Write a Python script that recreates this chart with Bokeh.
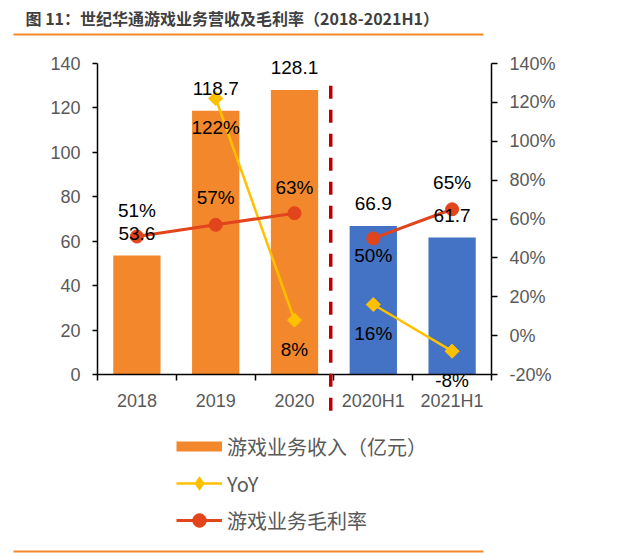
import math
from bokeh.plotting import figure
from bokeh.models import (Range1d, LinearAxis, FixedTicker, CustomJSTickFormatter,
                          PrintfTickFormatter, ColumnDataSource, LabelSet, Label,
                          BoxAnnotation, Arrow, Legend, LegendItem)
from bokeh.core.properties import value
from bokeh.embed import file_html
from bokeh.resources import INLINE

# ---------------- data ----------------
TITLE = "图 11：世纪华通游戏业务营收及毛利率（2018-2021H1）"
categories = ["2018", "2019", "2020", "2020H1", "2021H1"]
revenue = [53.6, 118.7, 128.1, 66.9, 61.7]      # 游戏业务收入（亿元）
yoy = [None, 122, 8, 16, -8]                     # YoY (%)
gross_margin = [51, 57, 63, 50, 65]              # 游戏业务毛利率 (%)
left_ticks = [0, 20, 40, 60, 80, 100, 120, 140]
right_ticks = [-20, 0, 20, 40, 60, 80, 100, 120, 140]
legend_names = ["游戏业务收入（亿元）", "YoY", "游戏业务毛利率"]

# ---------------- styles / layout ----------------
ORANGE = "#F3872B"
BLUE = "#4472C4"
YELLOW = "#FFC000"
RED = "#E2441C"
DIV_RED = "#C00000"
TICK_GREY = "#595959"
NUM_FONT = "Liberation Sans"
CJK_FONT = "Noto Sans CJK SC"
gm_label_offset = [26, 27, 26, -17, 27]
yoy_label_offset = -29
bar_label_offset = 22

W, H = 640, 553
PL, PR, PT, PB = 97, 491, 63, 374   # plot area (axes box) in canvas pixels

n = len(categories)
xs = [i + 0.5 for i in range(n)]
is_half = [c.endswith("H1") for c in categories]

# the frame covers the whole canvas; axes are pinned at fixed data locations
ux = (PR - PL) / n
x_lo, x_hi = -PL / ux, (W - PL) / ux
uy = (PB - PT) / (left_ticks[-1] - left_ticks[0])
y_lo = left_ticks[0] - (H - PB) / uy
y_hi = left_ticks[-1] + PT / uy
uy2 = (PB - PT) / (right_ticks[-1] - right_ticks[0])
y2_lo = right_ticks[0] - (H - PB) / uy2
y2_hi = right_ticks[-1] + PT / uy2

p = figure(width=W, height=H, output_backend="svg", toolbar_location=None, title=None,
           x_range=Range1d(x_lo, x_hi), y_range=Range1d(y_lo, y_hi),
           min_border=0, min_border_left=0, min_border_right=0,
           min_border_top=0, min_border_bottom=0)
p.extra_y_ranges = {"pct": Range1d(y2_lo, y2_hi)}
p.outline_line_color = None
p.grid.visible = False
p.background_fill_color = "white"
p.border_fill_color = "white"

# ---------------- axes ----------------
xa = p.xaxis[0]
xa.fixed_location = left_ticks[0]
xa.bounds = (0, n)
xa.ticker = FixedTicker(ticks=xs, minor_ticks=list(range(n + 1)))
xa.formatter = CustomJSTickFormatter(args=dict(cats=categories),
                                     code="return cats[Math.floor(tick)];")
xa.major_tick_line_color = None
xa.major_tick_out = 5
xa.major_tick_in = 0
xa.minor_tick_out = 6
xa.minor_tick_in = 0
xa.minor_tick_line_color = "black"
xa.minor_tick_line_width = 1.5
xa.axis_line_color = "black"
xa.axis_line_width = 1.5
xa.major_label_standoff = 10
xa.major_label_text_font = NUM_FONT
xa.major_label_text_font_size = "18px"
xa.major_label_text_color = TICK_GREY

ya = p.yaxis[0]
ya.fixed_location = 0
ya.bounds = (left_ticks[0], left_ticks[-1])
ya.ticker = FixedTicker(ticks=left_ticks)
ya.minor_tick_line_color = None
ya.major_tick_in = 0
ya.major_tick_out = 5
ya.major_tick_line_color = "black"
ya.major_tick_line_width = 1.5
ya.axis_line_color = "black"
ya.axis_line_width = 1.5
ya.major_label_standoff = 12
ya.major_label_text_font = NUM_FONT
ya.major_label_text_font_size = "18px"
ya.major_label_text_color = TICK_GREY

ra = LinearAxis(y_range_name="pct", ticker=FixedTicker(ticks=right_ticks),
                formatter=PrintfTickFormatter(format="%d%%"))
ra.fixed_location = n
ra.bounds = (right_ticks[0], right_ticks[-1])
ra.minor_tick_line_color = None
ra.major_tick_in = 0
ra.major_tick_out = 6
ra.major_tick_line_color = "black"
ra.major_tick_line_width = 1.5
ra.axis_line_color = "black"
ra.axis_line_width = 1.5
ra.major_label_standoff = 12
ra.major_label_text_font = NUM_FONT
ra.major_label_text_font_size = "18px"
ra.major_label_text_color = TICK_GREY
p.add_layout(ra, "right")

# ---------------- bars ----------------
bar_src = ColumnDataSource(dict(
    x=xs, top=revenue,
    color=[BLUE if h else ORANGE for h in is_half],
    label=[f"{v:g}" for v in revenue]))
p.vbar(x="x", top="top", width=0.6, fill_color="color", line_color=None, source=bar_src)

# ---------------- lines (broken between annual and half-year) ----------------
groups = [[i for i in range(n) if not is_half[i]], [i for i in range(n) if is_half[i]]]

for g in groups:
    p.line([xs[i] for i in g], [yoy[i] if yoy[i] is not None else math.nan for i in g],
           y_range_name="pct", line_color=YELLOW, line_width=2.5)
for g in groups:
    p.line([xs[i] for i in g], [gross_margin[i] for i in g],
           y_range_name="pct", line_color=RED, line_width=3)

yoy_idx = [i for i in range(n) if yoy[i] is not None]
yoy_src = ColumnDataSource(dict(x=[xs[i] for i in yoy_idx], y=[yoy[i] for i in yoy_idx],
                                label=[f"{yoy[i]}%" for i in yoy_idx]))
p.scatter("x", "y", source=yoy_src, y_range_name="pct", marker="square",
          angle=math.pi / 4, size=10, fill_color=YELLOW, line_color=YELLOW)

gm_src = ColumnDataSource(dict(x=xs, y=gross_margin,
                               label=[f"{v}%" for v in gross_margin],
                               off=gm_label_offset))
p.scatter("x", "y", source=gm_src, y_range_name="pct", marker="circle",
          size=13, fill_color=RED, line_color=RED)

# ---------------- divider between annual and half-year data ----------------
boundary = sum(1 for h in is_half if not h) - 0.04
p.add_layout(Arrow(end=None, x_start=boundary, y_start=130, x_end=boundary, y_end=-18.5,
                   line_color=DIV_RED, line_width=3.5, line_dash="13 11"))

# ---------------- labels ----------------
p.add_layout(LabelSet(x="x", y="top", text="label", source=bar_src, y_offset=bar_label_offset,
                      text_align="center", text_baseline="middle", text_font=value(NUM_FONT),
                      text_font_size=value("19px"), text_color="black"))
p.add_layout(LabelSet(x="x", y="y", text="label", source=gm_src, y_range_name="pct",
                      y_offset="off", text_align="center", text_baseline="middle",
                      text_font=value(NUM_FONT), text_font_size=value("19px"),
                      text_color="black"))
p.add_layout(LabelSet(x="x", y="y", text="label", source=yoy_src, y_range_name="pct",
                      y_offset=yoy_label_offset, text_align="center", text_baseline="middle",
                      text_font=value(NUM_FONT), text_font_size=value("19px"),
                      text_color="black"))

# ---------------- legend (legend-only glyph samples, nothing drawn on the plot) ----------------
nan = [math.nan]
lg_bar = p.line(x=nan, y=nan, line_color=ORANGE, line_width=10)
lg_yoy_line = p.line(x=nan, y=nan, line_color=YELLOW, line_width=2.5)
lg_yoy_pt = p.scatter(x=nan, y=nan, marker="diamond", fill_color=YELLOW, line_color=YELLOW)
lg_gm_line = p.line(x=nan, y=nan, line_color=RED, line_width=3)
lg_gm_pt = p.scatter(x=nan, y=nan, marker="circle", fill_color=RED, line_color=RED)
legend = Legend(items=[
    LegendItem(label=legend_names[0], renderers=[lg_bar]),
    LegendItem(label=legend_names[1], renderers=[lg_yoy_line, lg_yoy_pt]),
    LegendItem(label=legend_names[2], renderers=[lg_gm_line, lg_gm_pt]),
], location=(176, 16), glyph_width=46, glyph_height=34, label_standoff=5,
    label_height=24, spacing=3, padding=0, margin=0, border_line_color=None,
    background_fill_alpha=0, label_text_font=CJK_FONT, label_text_font_size="20px",
    label_text_color=TICK_GREY)
p.add_layout(legend)

# ---------------- title and rules ----------------
p.add_layout(Label(x=25, y=H - 17, x_units="screen", y_units="screen", text=TITLE,
                   text_font=CJK_FONT, text_font_size="16px", text_font_style="bold",
                   text_color="#404040", text_baseline="middle"))
for rule_y in (34, 551):
    p.add_layout(BoxAnnotation(left=13, right=483, top=H - rule_y + 1,
                               bottom=H - rule_y - 1, left_units="screen",
                               right_units="screen", top_units="screen",
                               bottom_units="screen", fill_color=ORANGE, fill_alpha=1,
                               line_color=None))

with open("out.html", "w") as f:
    f.write(file_html(p, INLINE))
